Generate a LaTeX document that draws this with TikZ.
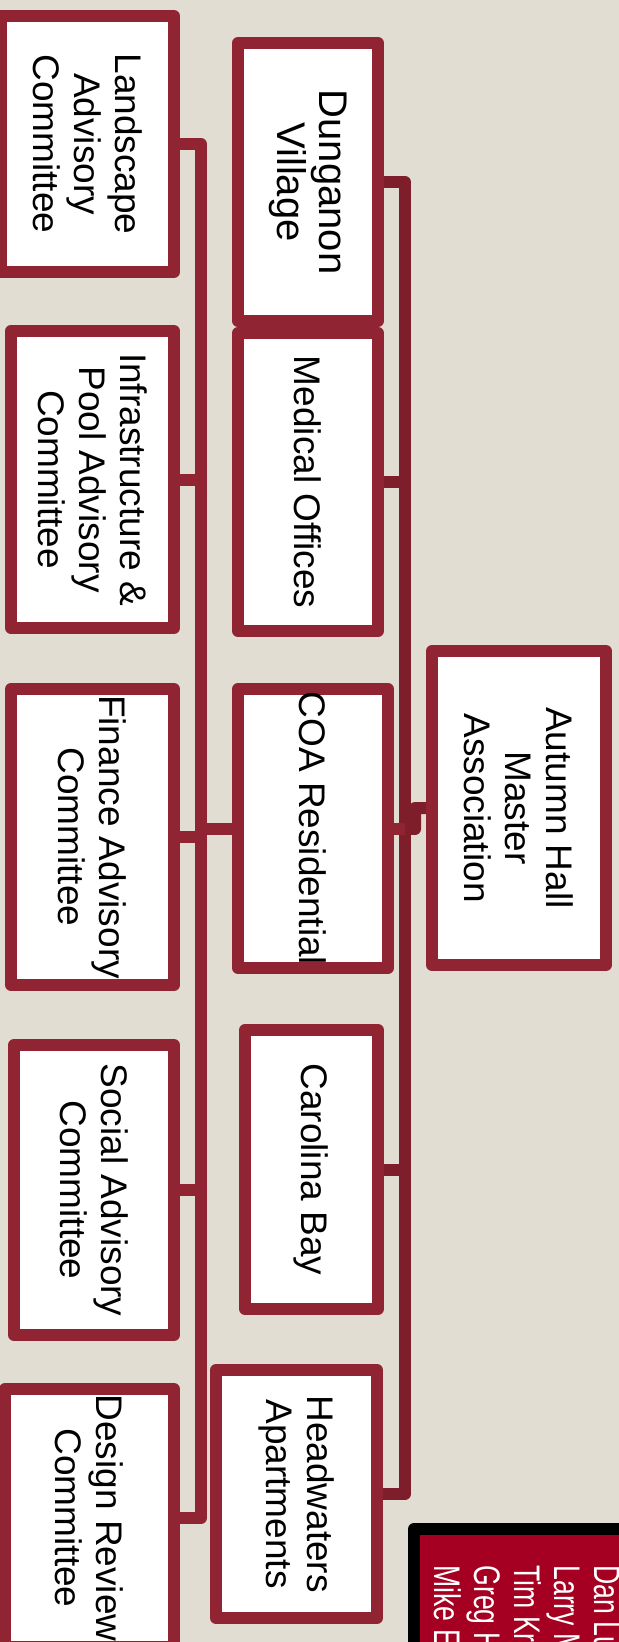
\documentclass[tikz,border=0pt]{standalone}
\usepackage{fontspec}
\setmainfont{Liberation Sans}
\newfontfamily\narrowfont[FakeStretch=0.72]{Liberation Sans}
\definecolor{bgc}{RGB}{226,221,211}
\definecolor{boxred}{RGB}{145,36,51}
\definecolor{darkred}{RGB}{126,30,43}
\definecolor{namered}{RGB}{165,0,33}
\pgfdeclarelayer{bg}
\pgfsetlayers{bg,main}
\begin{document}
\begin{tikzpicture}[x=0.5pt,y=-0.5pt,
  box/.style={draw=boxred, line width=6pt, line join=round, fill=white, rotate=-90, align=center, inner sep=0pt, font=\fontsize{18.5}{20.5}\selectfont},
  midconn/.style={draw=darkred, line width=6pt, line join=round},
  leftconn/.style={draw=boxred, line width=6pt, line join=round}]
\useasboundingbox (0,0) rectangle (619,1642);
\clip (0,0) rectangle (619,1642);
% committees
\node[box, minimum width=128pt, minimum height=86.5pt] (land) at (87.5,144) {Landscape\\Advisory\\Committee};
\node[box, minimum width=148.5pt, minimum height=81.5pt] (inf) at (92.5,479.5) {Infrastructure \&\\Pool Advisory\\Committee};
\node[box, minimum width=148pt, minimum height=81.5pt] (fin) at (92.5,837) {Finance Advisory\\Committee};
\node[box, minimum width=145pt, minimum height=80pt] (soc) at (94,1190) {Social Advisory\\Committee};
\node[box, minimum width=129pt, minimum height=84.5pt] (des) at (89.5,1518) {Design Review\\Committee};
% communities
\node[box, minimum width=139pt, minimum height=70pt, font=\fontsize{20}{21}\selectfont] (dun) at (308,182) {Dunganon\\Village};
\node[box, minimum width=149pt, minimum height=70pt] (med) at (308,482) {Medical Offices};
\node[box, minimum width=139.5pt, minimum height=75pt] (coa) at (313,828.5) {COA Residential};
\node[box, minimum width=139.5pt, minimum height=66.5pt] (car) at (311.5,1169.5) {Carolina Bay};
\node[box, minimum width=124pt, minimum height=80.5pt] (head) at (296.5,1494) {Headwaters\\Apartments};
% master
\node[box, minimum width=157pt, minimum height=87pt] (ah) at (519,808) {Autumn Hall\\Master\\Association};
% board
\path[draw=black, fill=namered, line width=6pt, line join=round] (414,1529) rectangle (660,1700);
\node[rotate=-90, anchor=west, align=left, text=white, inner sep=0pt, font=\narrowfont\fontsize{18.5}{20}\selectfont] (names) at (527,1565) {Dan Lu\\Larry M\\Tim Kr\\Greg H\\Mike E};
\begin{pgfonlayer}{bg}
\fill[bgc] (0,0) rectangle (619,1642);
\coordinate (mt) at (405,0);
\coordinate (lt) at (201,0);
\coordinate (aj) at (415,829);
\draw[midconn] (dun.north) -| (mt |- head.north) -- (head.north);
\draw[midconn] (med.north) -- (med.north -| mt);
\draw[midconn] (car.north) -- (car.north -| mt);
\draw[midconn] (ah.south) -| (aj) -- (coa.north -| mt);
\draw[leftconn] (coa.north) -- (coa.north -| mt);
\draw[leftconn] (land.north) -| (lt |- des.north) -- (des.north);
\draw[leftconn] (inf.north) -- (inf.north -| lt);
\draw[leftconn] (fin.north) -- (fin.north -| lt);
\draw[leftconn] (soc.north) -- (soc.north -| lt);
\draw[leftconn] (coa.south) -- (coa.south -| lt);
\end{pgfonlayer}
\end{tikzpicture}
\end{document}
